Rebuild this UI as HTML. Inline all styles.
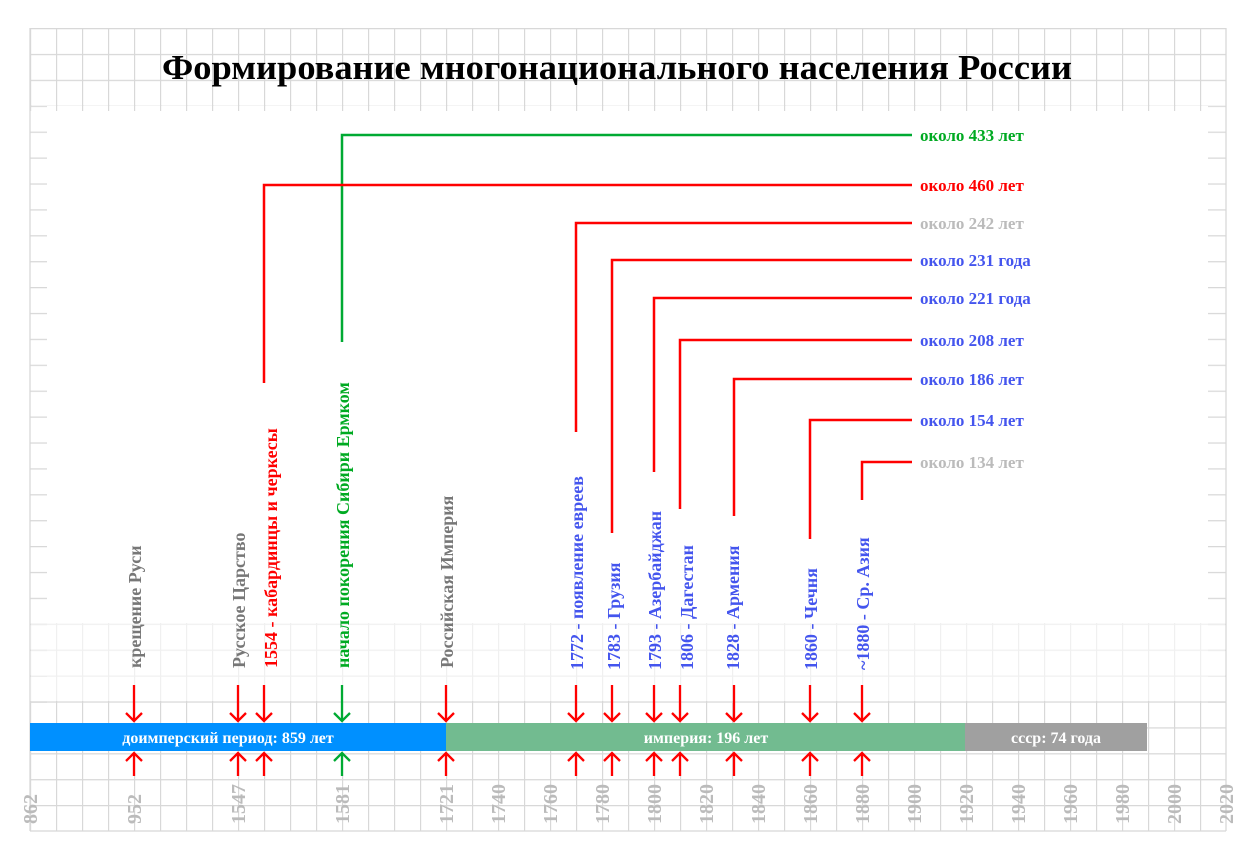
<!DOCTYPE html>
<html><head><meta charset="utf-8"><style>body{margin:0;background:#fff}svg{display:block}</style></head>
<body>
<svg width="1256" height="860" xmlns="http://www.w3.org/2000/svg" font-family="Liberation Serif, serif" font-weight="bold">
<defs>
<pattern id="pg" patternUnits="userSpaceOnUse" x="30" y="28" width="26" height="25.9"><path d="M0 0H26M0 0V25.9" stroke="#d8d8d8" stroke-width="2.4" fill="none"/></pattern>
<pattern id="pf" patternUnits="userSpaceOnUse" x="30" y="28" width="26" height="25.9"><path d="M0 0H26M0 0V25.9" stroke="#f0f0f0" stroke-width="2.4" fill="none"/></pattern>
<pattern id="pv" patternUnits="userSpaceOnUse" x="30" y="28" width="26" height="25.9"><path d="M0 0V25.9" stroke="#d8d8d8" stroke-width="2.4" fill="none"/></pattern>
<pattern id="ph" patternUnits="userSpaceOnUse" x="30" y="28" width="26" height="25.9"><path d="M0 0H26" stroke="#d8d8d8" stroke-width="2.4" fill="none"/></pattern>
</defs>
<rect x="30" y="28" width="1196" height="78" fill="url(#pg)"/>
<rect x="30" y="105" width="1196" height="6" fill="url(#pv)"/>
<rect x="30" y="106" width="17" height="600" fill="url(#ph)"/>
<rect x="1208" y="106" width="18" height="600" fill="url(#ph)"/>
<rect x="31" y="623" width="1194" height="78" fill="url(#pf)"/>
<rect x="30" y="701" width="1196" height="130" fill="url(#pg)"/>
<g stroke="#d8d8d8" stroke-width="1.3">
<line x1="30" y1="28" x2="30" y2="831"/><line x1="1226" y1="28" x2="1226" y2="831"/>
<line x1="30" y1="831" x2="1226" y2="831"/>
</g>
<text x="617" y="79" text-anchor="middle" font-size="35" fill="#000" textLength="910" lengthAdjust="spacingAndGlyphs">Формирование многонационального населения России</text>

<g fill="none" stroke-width="2.5">
<polyline points="342,342 342,135 912,135" stroke="#00aa33"/>
<polyline points="264,383 264,185 912,185" stroke="#f00"/>
<polyline points="576,432 576,223 912,223" stroke="#f00"/>
<polyline points="612,533 612,260 912,260" stroke="#f00"/>
<polyline points="654,472 654,298 912,298" stroke="#f00"/>
<polyline points="680,509 680,340 912,340" stroke="#f00"/>
<polyline points="734,516 734,379 912,379" stroke="#f00"/>
<polyline points="810,539 810,420 912,420" stroke="#f00"/>
<polyline points="862,500 862,462 912,462" stroke="#f00"/>
</g>
<g font-size="17">
<text x="920" y="141" fill="#00aa22">около 433 лет</text>
<text x="920" y="191" fill="#f00">около 460 лет</text>
<text x="920" y="229" fill="#bbb">около 242 лет</text>
<text x="920" y="266" fill="#4455ee">около 231 года</text>
<text x="920" y="304" fill="#4455ee">около 221 года</text>
<text x="920" y="346" fill="#4455ee">около 208 лет</text>
<text x="920" y="385" fill="#4455ee">около 186 лет</text>
<text x="920" y="426" fill="#4455ee">около 154 лет</text>
<text x="920" y="468" fill="#bbb">около 134 лет</text>
</g>
<g font-size="18">
<text transform="translate(141,668) rotate(-90)" fill="#777">крещение Руси</text>
<text transform="translate(245,668) rotate(-90)" fill="#777">Русское Царство</text>
<text transform="translate(277,668) rotate(-90)" fill="#f00">1554 - кабардинцы и черкесы</text>
<text transform="translate(349,668) rotate(-90)" fill="#00aa22">начало покорения Сибири Ермком</text>
<text transform="translate(453,668) rotate(-90)" fill="#777">Российская Империя</text>
<text transform="translate(583,670) rotate(-90)" fill="#4455ee">1772 - появление евреев</text>
<text transform="translate(620,670) rotate(-90)" fill="#4455ee">1783 - Грузия</text>
<text transform="translate(661,670) rotate(-90)" fill="#4455ee">1793 - Азербайджан</text>
<text transform="translate(693,670) rotate(-90)" fill="#4455ee">1806 - Дагестан</text>
<text transform="translate(739,670) rotate(-90)" fill="#4455ee">1828 - Армения</text>
<text transform="translate(817,670) rotate(-90)" fill="#4455ee">1860 - Чечня</text>
<text transform="translate(869,670) rotate(-90)" fill="#4455ee">~1880 - Ср. Азия</text>
</g>

<rect x="30" y="723" width="416" height="28" fill="#0090ff"/>
<rect x="446" y="723" width="519" height="28" fill="#72bb90"/>
<rect x="965" y="723" width="182" height="28" fill="#a0a0a0"/>
<g font-size="16" fill="#fff" text-anchor="middle">
<text x="228" y="743">доимперский период: 859 лет</text>
<text x="706" y="743">империя: 196 лет</text>
<text x="1056" y="743">ссср: 74 года</text>
</g>

<g fill="none" stroke-width="2.3" stroke="#f00">
<path d="M134 685V721M126 713L134 721L142 713M134 776V753M126 761L134 753L142 761"/>
<path d="M238 685V721M230 713L238 721L246 713M238 776V753M230 761L238 753L246 761"/>
<path d="M264 685V721M256 713L264 721L272 713M264 776V753M256 761L264 753L272 761"/>
<path stroke="#00aa33" d="M342 685V721M334 713L342 721L350 713M342 776V753M334 761L342 753L350 761"/>
<path d="M446 685V721M438 713L446 721L454 713M446 776V753M438 761L446 753L454 761"/>
<path d="M576 685V721M568 713L576 721L584 713M576 776V753M568 761L576 753L584 761"/>
<path d="M612 685V721M604 713L612 721L620 713M612 776V753M604 761L612 753L620 761"/>
<path d="M654 685V721M646 713L654 721L662 713M654 776V753M646 761L654 753L662 761"/>
<path d="M680 685V721M672 713L680 721L688 713M680 776V753M672 761L680 753L688 761"/>
<path d="M734 685V721M726 713L734 721L742 713M734 776V753M726 761L734 753L742 761"/>
<path d="M810 685V721M802 713L810 721L818 713M810 776V753M802 761L810 753L818 761"/>
<path d="M862 685V721M854 713L862 721L870 713M862 776V753M854 761L862 753L870 761"/>
</g>
<g font-size="20" fill="#bbb">
<text transform="translate(37,824) rotate(-90)">862</text>
<text transform="translate(141,824) rotate(-90)">952</text>
<text transform="translate(245,824) rotate(-90)">1547</text>
<text transform="translate(349,824) rotate(-90)">1581</text>
<text transform="translate(453,824) rotate(-90)">1721</text>
<text transform="translate(505,824) rotate(-90)">1740</text>
<text transform="translate(557,824) rotate(-90)">1760</text>
<text transform="translate(609,824) rotate(-90)">1780</text>
<text transform="translate(661,824) rotate(-90)">1800</text>
<text transform="translate(713,824) rotate(-90)">1820</text>
<text transform="translate(765,824) rotate(-90)">1840</text>
<text transform="translate(817,824) rotate(-90)">1860</text>
<text transform="translate(869,824) rotate(-90)">1880</text>
<text transform="translate(921,824) rotate(-90)">1900</text>
<text transform="translate(973,824) rotate(-90)">1920</text>
<text transform="translate(1025,824) rotate(-90)">1940</text>
<text transform="translate(1077,824) rotate(-90)">1960</text>
<text transform="translate(1129,824) rotate(-90)">1980</text>
<text transform="translate(1181,824) rotate(-90)">2000</text>
<text transform="translate(1233,824) rotate(-90)">2020</text>
</g>
</svg>
</body></html>
